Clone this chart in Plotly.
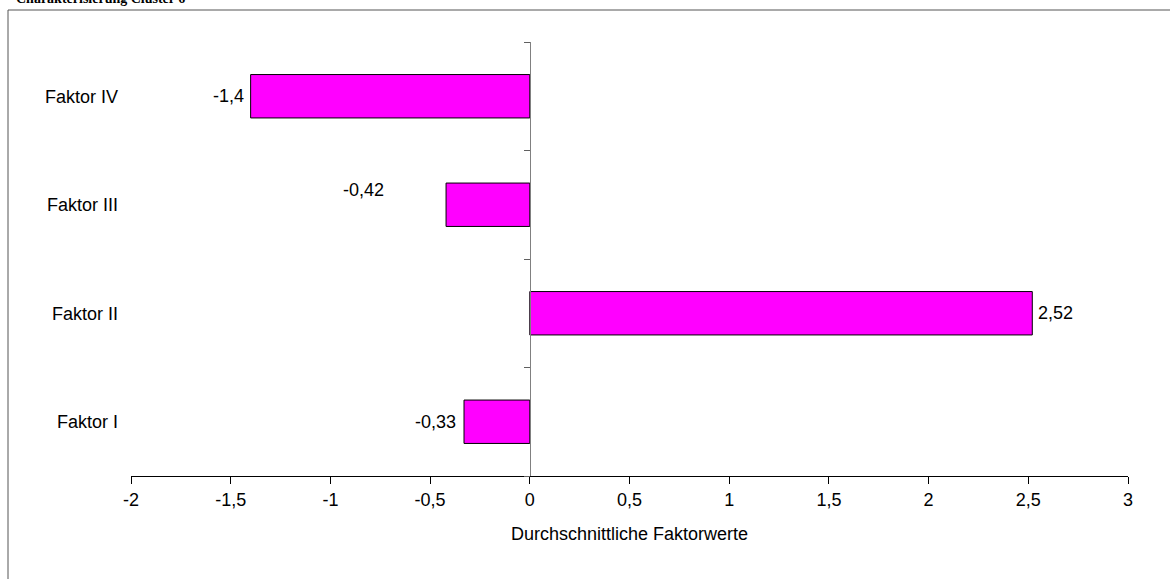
import plotly.graph_objects as go

categories = ["Faktor I", "Faktor II", "Faktor III", "Faktor IV"]
values = [-0.33, 2.52, -0.42, -1.4]
value_labels = ["-0,33", "2,52", "-0,42", "-1,4"]
x_ticks = [-2, -1.5, -1, -0.5, 0, 0.5, 1, 1.5, 2, 2.5, 3]
x_tick_labels = [("%g" % v).replace(".", ",") for v in x_ticks]
title_text = "Charakterisierung Cluster 6"
x_title = "Durchschnittliche Faktorwerte"

W, H = 1170, 579
L, T = 131, 42
pw, ph = 997, 434
R, B = W - L - pw, H - T - ph

def px_x(s):
    return (s - L) / pw

def px_y(s):
    return 1 - (s - T) / ph

FONT = "Liberation Sans, Arial, sans-serif"

fig = go.Figure()
fig.add_trace(go.Bar(
    x=values, y=categories, orientation="h", width=0.4,
    marker=dict(color="#FF00FF", line=dict(color="black", width=1)),
    showlegend=False, hoverinfo="x+y",
))
# helper trace so the zero-position category axis (ticks at boundaries) is drawn
fig.add_trace(go.Scatter(
    x=[0], y=[0], yaxis="y2", mode="markers",
    marker=dict(opacity=0), showlegend=False, hoverinfo="skip",
))

# data labels (offsets mimic the reference placement)
label_offsets = [
    dict(xanchor="right", xshift=-6, yshift=0),   # Faktor I
    dict(xanchor="left", xshift=4, yshift=0),     # Faktor II
    dict(xanchor="right", xshift=-60, yshift=15), # Faktor III
    dict(xanchor="right", xshift=-5, yshift=0),   # Faktor IV
]
for cat, v, txt, off in zip(categories, values, value_labels, label_offsets):
    fig.add_annotation(
        x=v, y=cat, xref="x", yref="y", text=txt, showarrow=False,
        font=dict(family=FONT, size=18, color="black"),
        yanchor="middle", **off,
    )

# chart title, cut by the top edge as in the reference
fig.add_annotation(
    x=px_x(14), y=px_y(8), xref="paper", yref="paper",
    xanchor="left", yanchor="bottom", showarrow=False,
    text="<b>%s</b>" % title_text,
    font=dict(family="Liberation Serif, Times New Roman, serif", size=14, color="black"),
)

# outer chart frame
fig.add_shape(
    type="rect", xref="paper", yref="paper",
    x0=px_x(8), x1=px_x(1200), y0=px_y(620), y1=px_y(10),
    line=dict(color="#555555", width=1), fillcolor="rgba(0,0,0,0)", layer="below",
)

fig.update_layout(
    width=W, height=H,
    margin=dict(l=L, r=R, t=T, b=B),
    paper_bgcolor="white", plot_bgcolor="white",
    font=dict(family=FONT, size=18, color="black"),
    xaxis=dict(
        range=[-2, 3], tickvals=x_ticks, ticktext=x_tick_labels,
        showgrid=False, zeroline=False, showline=True, linecolor="black", linewidth=1,
        ticks="outside", ticklen=7, tickcolor="black", tickwidth=1,
        tickfont=dict(size=18),
        title=dict(text=x_title, font=dict(size=18), standoff=18),
        fixedrange=True,
    ),
    yaxis=dict(
        type="category", categoryorder="array", categoryarray=categories,
        range=[-0.5, 3.5], showgrid=False, zeroline=False, showline=False,
        ticks="", ticklabelstandoff=12, tickfont=dict(size=18),
        fixedrange=True,
    ),
    yaxis2=dict(
        overlaying="y", anchor="free", position=(0 - (-2)) / 5,
        range=[-0.5, 3.5], tickvals=[-0.5, 0.5, 1.5, 2.5, 3.5],
        showticklabels=False, showgrid=False, zeroline=False,
        showline=True, linecolor="#808080", linewidth=1,
        ticks="outside", ticklen=6, tickcolor="#606060", side="left",
        fixedrange=True,
    ),
)

fig.write_html(
    "out.html",
    config={"displayModeBar": False},
    post_script="document.body.style.margin='0';document.body.style.overflow='hidden';",
)
